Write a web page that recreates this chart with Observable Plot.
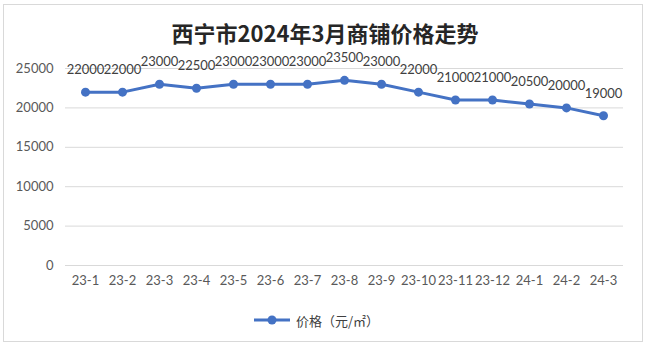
<!DOCTYPE html>
<html><head><meta charset="utf-8">
<script src="https://cdn.jsdelivr.net/npm/d3@7"></script>
<script src="https://cdn.jsdelivr.net/npm/@observablehq/plot@0.6"></script>
<style>
html,body{margin:0;padding:0;background:#fff;width:650px;height:351px;overflow:hidden;}
#frame{position:absolute;left:3px;top:4px;width:640px;height:338px;border:1px solid #d9d9d9;box-sizing:border-box;}
#title{position:absolute;left:0;top:17px;width:650px;text-align:center;font:bold 22px "Noto Sans CJK SC",sans-serif;color:#262626;line-height:30px;}
#chart{position:absolute;left:0;top:50px;}
#legend{position:absolute;left:254px;top:310px;height:20px;display:flex;align-items:center;font:13px "Noto Sans CJK SC",sans-serif;color:#404040;}
#legend svg{margin-right:6px;}
</style></head>
<body>
<div id="frame"></div>
<div id="title">西宁市2024年3月商铺价格走势</div>
<div id="chart"></div>
<div id="legend"><svg width="36" height="12"><line x1="0" y1="6" x2="36" y2="6" stroke="#4472C4" stroke-width="3"/><circle cx="18" cy="6" r="4.5" fill="#4472C4"/></svg><span>价格（元/㎡）</span></div>
<script>
const months = ["23-1","23-2","23-3","23-4","23-5","23-6","23-7","23-8","23-9","23-10","23-11","23-12","24-1","24-2","24-3"];
const prices = [22000,22000,23000,22500,23000,23000,23000,23500,23000,22000,21000,21000,20500,20000,19000];
const yTicks = [0,5000,10000,15000,20000,25000];
const seriesName = "价格（元/㎡）";

const data = months.map((m,i)=>({month:m, price:prices[i]}));
const color = "#4472C4";
const numFont = "Lato, 'Noto Sans', sans-serif";

const chart = Plot.plot({
  width: 650,
  height: 250,
  marginLeft: 65,
  marginRight: 27,
  marginTop: 18,
  marginBottom: 35,
  style: {fontFamily: numFont, fontSize: "13px", color: "#595959", background: "transparent"},
  x: {type: "point", domain: months, padding: 0.46, label: null},
  y: {domain: [0,25000], label: null},
  marks: [
    Plot.ruleY(yTicks, {stroke: "#d9d9d9", strokeWidth: 1}),
    Plot.axisY({ticks: yTicks, tickSize: 0, tickPadding: 12, tickFormat: d=>String(d), fontSize: 13}),
    Plot.axisX({tickSize: 0, tickPadding: 10, fontSize: 13}),
    Plot.line(data, {x: "month", y: "price", stroke: color, strokeWidth: 3}),
    Plot.dot(data, {x: "month", y: "price", fill: color, r: 4.5}),
    Plot.text(data, {x: "month", y: "price", text: d=>String(d.price), dy: -22, fill: "#404040", fontSize: 13, fontFamily: numFont})
  ]
});
document.getElementById("chart").appendChild(chart);
</script>
</body></html>
